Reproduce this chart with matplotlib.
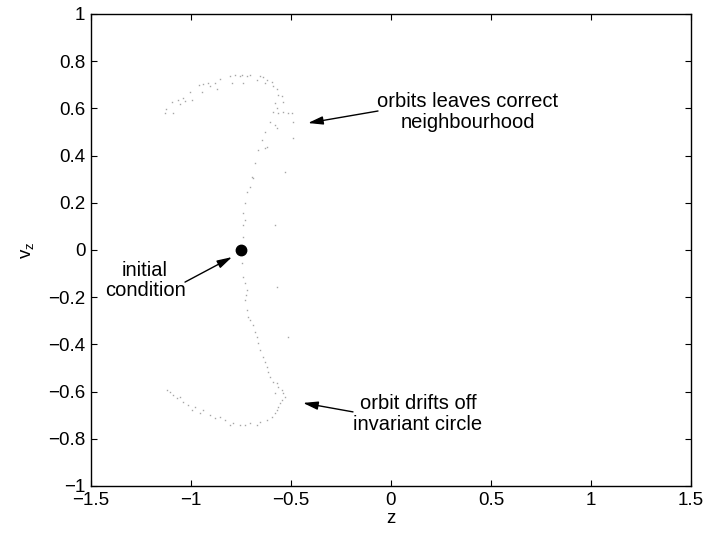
import matplotlib
matplotlib.use("Agg")
import matplotlib.pyplot as plt

plt.rcParams['font.family'] = ['Liberation Sans', 'DejaVu Sans']

# orbit points, upper branch (z, v_z)
upper_z = [-1.13, -1.125, -1.097, -1.088, -1.063, -1.055, -1.038, -1.03, -1.005, -0.997,
           -0.958, -0.947, -0.938, -0.913, -0.905, -0.88, -0.872, -0.855, -0.805, -0.797,
           -0.78, -0.755, -0.747, -0.738, -0.722, -0.705, -0.672, -0.655, -0.638, -0.63,
           -0.622, -0.597, -0.588, -0.572, -0.563, -0.547, -0.538, -0.58, -0.572, -0.588,
           -0.563, -0.538, -0.513, -0.497, -0.488, -0.605, -0.58, -0.572, -0.63, -0.647,
           -0.63, -0.622, -0.663, -0.488, -0.68, -0.697, -0.688, -0.705, -0.722, -0.73,
           -0.738, -0.73, -0.738, -0.742, -0.58, -0.53]
upper_v = [0.579, 0.596, 0.626, 0.582, 0.636, 0.617, 0.645, 0.633, 0.671, 0.636,
           0.699, 0.671, 0.703, 0.706, 0.695, 0.706, 0.681, 0.725, 0.739, 0.709,
           0.742, 0.739, 0.742, 0.706, 0.737, 0.742, 0.720, 0.739, 0.734, 0.706,
           0.720, 0.713, 0.695, 0.681, 0.657, 0.653, 0.629, 0.621, 0.600, 0.586,
           0.579, 0.586, 0.579, 0.579, 0.544, 0.544, 0.530, 0.516, 0.501, 0.466,
           0.431, 0.438, 0.424, 0.473, 0.367, 0.311, 0.304, 0.268, 0.247, 0.198,
           0.155, 0.127, 0.106, 0.057, 0.106, 0.332]

# orbit points, lower branch (z, v_z)
lower_z = [-0.747, -0.738, -0.73, -0.722, -0.725, -0.73, -0.722, -0.713, -0.705, -0.688,
           -0.68, -0.672, -0.663, -0.655, -0.638, -0.63, -0.622, -0.613, -0.605, -0.588,
           -0.572, -0.563, -0.547, -0.538, -0.53, -0.547, -0.555, -0.563, -0.572, -0.58,
           -0.597, -0.622, -0.655, -0.672, -0.705, -0.73, -0.755, -0.788, -0.805, -0.83,
           -0.855, -0.88, -0.905, -0.938, -0.955, -0.98, -0.997, -1.013, -1.038, -1.055,
           -1.072, -1.088, -1.105, -1.122, -0.572, -0.513, -0.58]
lower_v = [-0.056, -0.113, -0.141, -0.169, -0.191, -0.212, -0.254, -0.282, -0.297, -0.318,
           -0.346, -0.367, -0.395, -0.424, -0.452, -0.473, -0.494, -0.516, -0.537, -0.558,
           -0.565, -0.579, -0.593, -0.607, -0.621, -0.636, -0.650, -0.664, -0.678, -0.692,
           -0.706, -0.720, -0.727, -0.742, -0.734, -0.742, -0.742, -0.734, -0.742, -0.720,
           -0.706, -0.713, -0.699, -0.678, -0.692, -0.664, -0.678, -0.657, -0.643, -0.621,
           -0.629, -0.614, -0.600, -0.593, -0.155, -0.367, -0.607]

initial_z = [-0.75]
initial_v = [0.0]

ticks_x = [-1.5, -1, -0.5, 0, 0.5, 1, 1.5]
ticks_y = [-1, -0.8, -0.6, -0.4, -0.2, 0, 0.2, 0.4, 0.6, 0.8, 1]
ticklabels_x = ['\u22121.5', '\u22121', '\u22120.5', '0', '0.5', '1', '1.5']
ticklabels_y = ['\u22121', '\u22120.8', '\u22120.6', '\u22120.4', '\u22120.2', '0',
                '0.2', '0.4', '0.6', '0.8', '1']

fig = plt.figure(figsize=(7.07, 5.35), dpi=100)
ax = fig.add_axes([91/707, 49/535, 600/707, 472/535])

ax.plot(upper_z, upper_v, linestyle='none', marker='s', markersize=1.0,
        markeredgewidth=0, color='0.65')
ax.plot(lower_z, lower_v, linestyle='none', marker='s', markersize=1.0,
        markeredgewidth=0, color='0.65')
ax.plot(initial_z, initial_v, linestyle='none', marker='o', markersize=7.5, color='black')

ax.set_xlim(-1.5, 1.5)
ax.set_ylim(-1, 1)
ax.set_xticks(ticks_x)
ax.set_xticklabels(ticklabels_x)
ax.set_yticks(ticks_y)
ax.set_yticklabels(ticklabels_y)
ax.tick_params(direction='in', top=True, right=True, length=4, width=0.8,
               labelsize=13.5, pad=4)
for s in ax.spines.values():
    s.set_linewidth(1.0)

ax.set_xlabel('z', fontsize=13.5, labelpad=1)
ax.set_ylabel('v$_\\mathregular{z}$', fontsize=13.5, labelpad=8)

arrow = dict(arrowstyle='-|>,head_length=0.9,head_width=0.25', color='black', lw=1.0,
             shrinkA=0, shrinkB=0)
fs = 14.5
ax.annotate('', xy=(-0.795, -0.03), xytext=(-1.03, -0.136), arrowprops=arrow)
ax.text(-1.23, -0.13, 'initial\ncondition', ha='center', va='center', fontsize=fs,
        linespacing=1.1)

ax.annotate('', xy=(-0.415, 0.538), xytext=(-0.065, 0.589), arrowprops=arrow)
ax.text(0.385, 0.585, 'orbits leaves correct\nneighbourhood', ha='center', va='center',
        fontsize=fs, linespacing=1.1)

ax.annotate('', xy=(-0.44, -0.648), xytext=(-0.19, -0.686), arrowprops=arrow)
ax.text(0.135, -0.695, 'orbit drifts off\ninvariant circle', ha='center', va='center',
        fontsize=fs, linespacing=1.1)

fig.savefig('out.png', dpi=100)
